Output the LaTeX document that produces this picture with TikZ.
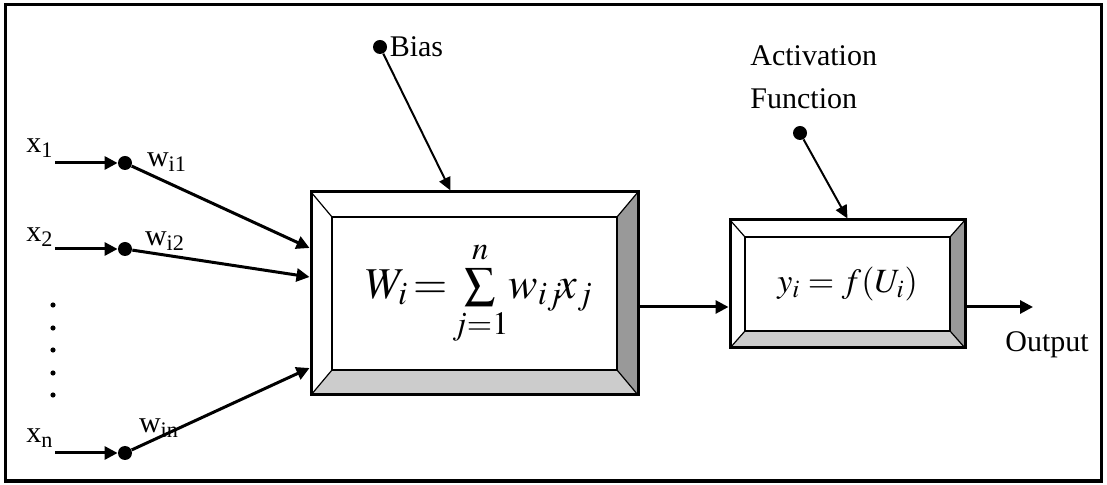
\documentclass[tikz,border=0pt]{standalone}
\usepackage{mathptmx}
\usepackage[no-math]{fontspec}
\setmainfont{Liberation Serif}
\usetikzlibrary{positioning,arrows.meta,calc}

\tikzset{
  bevel/.style n args={2}{draw, line width=1.5pt, fill=white, inner sep=0pt,
    path picture={
      \coordinate (bsw) at (path picture bounding box.south west);
      \coordinate (bse) at (path picture bounding box.south east);
      \coordinate (bnw) at (path picture bounding box.north west);
      \coordinate (bne) at (path picture bounding box.north east);
      \fill[gray!40] (bsw) -- (bse) -- ([shift={(-#1,#2)}]bse) -- ([shift={(#1,#2)}]bsw) -- cycle;
      \fill[gray!80] (bse) -- (bne) -- ([shift={(-#1,-#2)}]bne) -- ([shift={(-#1,#2)}]bse) -- cycle;
      \draw[line width=0.6pt] (bsw) -- ++(#1,#2) (bse) -- ++(-#1,#2)
        (bnw) -- ++(#1,-#2) (bne) -- ++(-#1,-#2);
      \draw[line width=1.1pt] ([shift={(#1,#2)}]bsw) rectangle ([shift={(-#1,-#2)}]bne);
    }},
  lbl/.style={inner sep=0pt, font=\fontsize{15}{21.5}\selectfont},
  dot/.style={circle, fill, inner sep=0pt, minimum width=7pt},
  arrow/.style={-{Triangle[length=6.5pt,width=6.5pt]}, line width=1.5pt},
  thin arrow/.style={-{Triangle[length=6.5pt,width=6pt]}, line width=1pt}
}

\begin{document}
\begin{tikzpicture}[x=0.5pt, y=-0.5pt]
\useasboundingbox (0,0) rectangle (1107,485);
\draw[line width=1.5pt] (5,5) rectangle (1101,481);

% summing junction and activation
\node[bevel={10.5pt}{12.5pt}, minimum width=163.5pt, minimum height=101.5pt] (sum) at (474.5,293.5)
  {\hspace{5pt}\raisebox{-3pt}{\fontsize{22}{26}\selectfont $W_i\mskip-2mu=\mskip-2mu\sum\limits_{j=1}^{n}\!w_{ij}\mskip-2mu x_j$}};
\node[bevel={7.5pt}{8.5pt}, minimum width=117.5pt, minimum height=64pt] (act) at (847.5,284)
  {\raisebox{-3pt}{\fontsize{17}{20}\selectfont $y_i=f(U_i)$}};

% inputs
\node[lbl] (x1) at (40,148) {x\textsubscript{1}};
\node[lbl] (x2) at (40,237) {x\textsubscript{2}};
\node[lbl] (xn) at (40,438) {x\textsubscript{n}};
\coordinate (s1) at (55,163);
\coordinate (s2) at (55,249);
\coordinate (sn) at (55,453);
\node[dot] (d1) at (125,163) {};
\node[dot] (d2) at (125,249) {};
\node[dot] (dn) at (125,453) {};
\node[lbl] (w1) at (167,162) {w\textsubscript{i1}};
\node[lbl] (w2) at (165,241) {w\textsubscript{i2}};
\node[lbl] (wn) at (159,428) {w\textsubscript{in}};
\foreach \y in {305,328,350,373,395}
  \fill (53,\y) circle (1.3pt);

% bias and activation labels
\node[dot] (bdot) at (380,47) {};
\node[lbl, right=1pt of bdot] (bias) {Bias};
\node[lbl, align=left, anchor=west] (actlbl) at (750,77) {Activation\\Function};
\node[dot] (adot) at (800,133) {};

% output
\coordinate (lvl) at (0,307);
\coordinate (outend) at (1033,307);
\node[lbl] (out) at (1047,345) {Output};

\draw[arrow] (s1) -- (d1);
\draw[arrow] (s2) -- (d2);
\draw[arrow] (sn) -- (dn);
\draw[arrow] (d1) -- ($(sum.west)+(0,-45.5)$);
\draw[arrow] (d2) -- ($(sum.west)+(0,-16.5)$);
\draw[arrow] (dn) -- ($(sum.west)+(0,74.5)$);
\draw[thin arrow] (bdot) -- ($(sum.north)+(-24,0)$);
\draw[thin arrow] (adot) -- (act.north);
\draw[arrow] (sum.east |- lvl) -- (act.west |- lvl);
\draw[arrow] (act.east |- lvl) -- (outend);
\end{tikzpicture}
\end{document}
